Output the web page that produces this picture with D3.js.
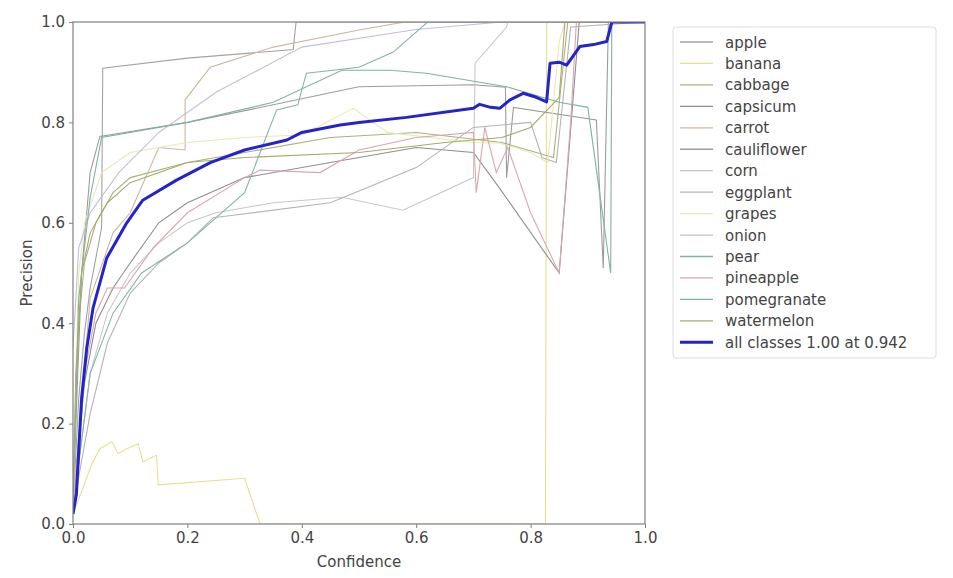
<!DOCTYPE html>
<html><head><meta charset="utf-8">
<script src="https://cdn.jsdelivr.net/npm/d3@7"></script>
<style>html,body{margin:0;padding:0;background:#fff;}svg{display:block;font-family:"DejaVu Sans",sans-serif;}</style>
</head><body><svg id="c" width="953" height="578"></svg>
<script>
const classNames = ["apple","banana","cabbage","capsicum","carrot","cauliflower","corn","eggplant","grapes","onion","pear","pineapple","pomegranate","watermelon"];
const classColors = ["#a3a3a3","#e4e28e","#a9b27a","#8e8e8e","#cdb69c","#9c9c9c","#c8c8c8","#b4b4b4","#e8e8b8","#c6bed6","#80b6a8","#daa6ae","#7eb4a2","#a8aa68"];
const xTicks = [0.0,0.2,0.4,0.6,0.8,1.0];
const yTicks = [0.0,0.2,0.4,0.6,0.8,1.0];
const meanLabel = "all classes 1.00 at 0.942";

const apple = [[0,0.03],[0.01,0.25],[0.02,0.38],[0.03,0.47],[0.05,0.59],[0.052,0.908],[0.2,0.928],[0.385,0.945],[0.39,1.0],[1,1]];
const banana = [[0,0.02],[0.02,0.08],[0.033,0.12],[0.047,0.15],[0.068,0.164],[0.079,0.14],[0.094,0.15],[0.114,0.16],[0.122,0.124],[0.146,0.137],[0.149,0.078],[0.30,0.091],[0.327,0],[0.826,0],[0.828,1],[1,1]];
const cabbage = [[0,0.05],[0.01,0.4],[0.02,0.52],[0.04,0.6],[0.07,0.66],[0.1,0.69],[0.2,0.72],[0.3,0.74],[0.45,0.77],[0.6,0.78],[0.75,0.76],[0.84,0.73],[0.865,1.0],[1,1]];
const capsicum = [[0,0.03],[0.02,0.28],[0.04,0.4],[0.07,0.47],[0.1,0.52],[0.15,0.6],[0.2,0.64],[0.3,0.69],[0.45,0.72],[0.6,0.75],[0.7,0.74],[0.745,0.67],[0.85,0.5],[0.885,1.0],[1,1]];
const carrot = [[0,0.04],[0.03,0.45],[0.07,0.58],[0.1,0.62],[0.15,0.75],[0.196,0.745],[0.196,0.845],[0.24,0.91],[0.35,0.95],[0.5,0.984],[0.58,1.0],[1,1]];
const cauliflower = [[0,0.05],[0.015,0.5],[0.03,0.7],[0.047,0.772],[0.2,0.8],[0.35,0.835],[0.5,0.871],[0.7,0.875],[0.756,0.87],[0.758,0.69],[0.77,0.83],[0.915,0.805],[0.927,0.51],[0.936,1.0],[1,1]];
const corn = [[0,0.03],[0.03,0.3],[0.06,0.42],[0.1,0.5],[0.15,0.56],[0.2,0.6],[0.25,0.62],[0.35,0.64],[0.47,0.651],[0.577,0.625],[0.70,0.69],[0.703,0.918],[0.758,0.99],[0.76,1.0],[1,1]];
const eggplant = [[0,0.03],[0.03,0.22],[0.06,0.36],[0.1,0.46],[0.15,0.52],[0.2,0.56],[0.245,0.61],[0.28,0.615],[0.45,0.64],[0.6,0.71],[0.7,0.79],[0.8,0.8],[0.82,0.73],[0.845,0.72],[0.87,0.99],[1,1]];
const grapes = [[0,0.02],[0.005,0.3],[0.01,0.5],[0.02,0.6],[0.05,0.7],[0.1,0.74],[0.2,0.76],[0.3,0.77],[0.4,0.775],[0.49,0.828],[0.55,0.78],[0.7,0.76],[0.746,0.759],[0.8,0.74],[0.83,0.72],[0.85,0.96],[0.86,1],[1,1]];
const onion = [[0,0.35],[0.005,0.45],[0.01,0.55],[0.03,0.62],[0.08,0.7],[0.15,0.78],[0.25,0.86],[0.4,0.95],[0.6,0.985],[0.75,1.0],[1,1]];
const pear = [[0,0.03],[0.03,0.3],[0.07,0.42],[0.12,0.5],[0.2,0.56],[0.3,0.66],[0.356,0.825],[0.393,0.835],[0.408,0.898],[0.5,0.91],[0.56,0.94],[0.62,1.0],[1,1]];
const pineapple = [[0,0.03],[0.02,0.3],[0.04,0.42],[0.06,0.47],[0.09,0.47],[0.14,0.55],[0.2,0.62],[0.3,0.69],[0.327,0.705],[0.432,0.70],[0.5,0.745],[0.6,0.77],[0.7,0.78],[0.705,0.66],[0.72,0.79],[0.74,0.7],[0.76,0.75],[0.8,0.62],[0.85,0.5],[0.87,0.8],[0.88,1.0],[1,1]];
const pomegranate = [[0,0.04],[0.01,0.45],[0.03,0.65],[0.05,0.77],[0.2,0.8],[0.35,0.84],[0.47,0.904],[0.554,0.904],[0.618,0.898],[0.758,0.871],[0.85,0.84],[0.9,0.83],[0.94,0.5],[0.942,1.0],[1,1]];
const watermelon = [[0,0.05],[0.005,0.3],[0.015,0.5],[0.03,0.58],[0.06,0.64],[0.1,0.68],[0.2,0.72],[0.3,0.73],[0.5,0.74],[0.65,0.76],[0.75,0.77],[0.8,0.79],[0.85,0.85],[0.86,1],[1,1]];
const allClasses = [[0,0.02],[0.006,0.06],[0.015,0.25],[0.024,0.35],[0.035,0.43],[0.059,0.53],[0.094,0.60],[0.122,0.645],[0.181,0.685],[0.24,0.72],[0.30,0.745],[0.374,0.765],[0.40,0.78],[0.467,0.795],[0.50,0.80],[0.583,0.81],[0.70,0.828],[0.711,0.836],[0.73,0.83],[0.746,0.828],[0.764,0.845],[0.787,0.858],[0.81,0.85],[0.828,0.841],[0.834,0.918],[0.85,0.92],[0.863,0.914],[0.886,0.951],[0.91,0.955],[0.933,0.961],[0.942,1.0],[1.0,1.0]];

const classData = [apple,banana,cabbage,capsicum,carrot,cauliflower,corn,eggplant,grapes,onion,pear,pineapple,pomegranate,watermelon];

const FS = "15px";
const svg = d3.select("#c");
const L = 73, R = 645, T = 22, B = 524;
const x = d3.scaleLinear().domain([0,1]).range([L,R]);
const y = d3.scaleLinear().domain([0,1]).range([B,T]);

svg.append("defs").append("clipPath").attr("id","clip")
  .append("rect").attr("x",L).attr("y",T).attr("width",R-L).attr("height",B-T);

const line = d3.line().x(d=>x(d[0])).y(d=>y(d[1]));
const g = svg.append("g").attr("clip-path","url(#clip)");
classData.forEach((d,i)=>{
  g.append("path").attr("d",line(d)).attr("fill","none").attr("stroke",classColors[i]).attr("stroke-width",1.1);
});
g.append("path").attr("d",line(allClasses)).attr("fill","none").attr("stroke","#2424c8").attr("stroke-width",3).attr("stroke-linejoin","round");

svg.append("rect").attr("x",L).attr("y",T).attr("width",R-L).attr("height",B-T).attr("fill","none").attr("stroke","#808080").attr("stroke-width",1.2);

const xa = svg.append("g").attr("transform",`translate(0,${B})`).call(d3.axisBottom(x).tickValues(xTicks).tickFormat(d3.format(".1f")).tickSize(4).tickPadding(4).tickSizeOuter(0));
const ya = svg.append("g").attr("transform",`translate(${L},0)`).call(d3.axisLeft(y).tickValues(yTicks).tickFormat(d3.format(".1f")).tickSize(4).tickPadding(4).tickSizeOuter(0));
[xa,ya].forEach(a=>{
  a.select(".domain").remove();
  a.selectAll("line").attr("stroke","#808080");
  a.selectAll("text").attr("fill","#444").style("font-size",FS).style("font-family","DejaVu Sans");
});

svg.append("text").attr("x",(L+R)/2).attr("y",567).attr("text-anchor","middle").attr("fill","#444").style("font-size",FS).text("Confidence");
svg.append("text").attr("transform",`translate(32,${(T+B)/2}) rotate(-90)`).attr("text-anchor","middle").attr("fill","#444").style("font-size",FS).text("Precision");

const lg = svg.append("g");
lg.append("rect").attr("x",673).attr("y",27).attr("width",263).attr("height",331).attr("rx",3).attr("fill","#fff").attr("stroke","#ddd");
const names = classNames.concat([meanLabel]);
names.forEach((n,i)=>{
  const yy = 42 + i*21.45;
  const last = i===names.length-1;
  lg.append("line").attr("x1",680).attr("x2",713).attr("y1",yy).attr("y2",yy)
    .attr("stroke", last?"#2424c8":classColors[i]).attr("stroke-width", last?3:1.3);
  lg.append("text").attr("x",725).attr("y",yy+5.5).attr("fill","#444").style("font-size",FS).text(n);
});
</script></body></html>
